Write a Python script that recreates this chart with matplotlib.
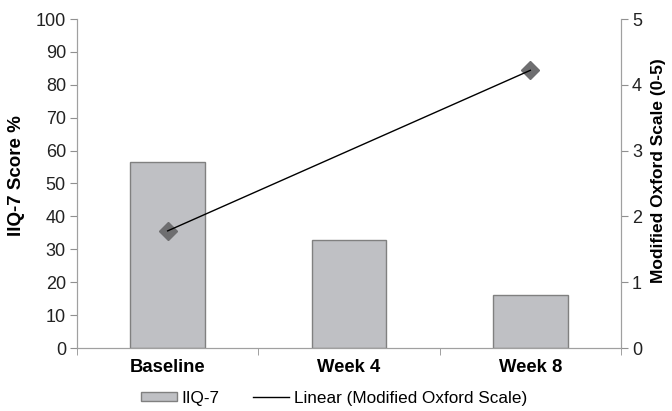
import numpy as np
import matplotlib
matplotlib.use("Agg")
import matplotlib.pyplot as plt
from matplotlib.lines import Line2D
from matplotlib.patches import Patch

categories = ["Baseline", "Week 4", "Week 8"]
iiq7 = [56.5, 32.8, 16.1]
oxford_x = [0, 2]
oxford = [1.78, 4.22]
left_ticks = list(range(0, 101, 10))
right_ticks = [0, 1, 2, 3, 4, 5]

plt.rcParams['font.family'] = ['Liberation Sans', 'DejaVu Sans']

fig = plt.figure(figsize=(6.72, 4.11), dpi=100)
ax = fig.add_axes([77/672, 1-348/411, (621-77)/672, (348-19)/411])
x = np.arange(len(categories))
ax.bar(x, iiq7, width=0.41, color='#bfc0c4', edgecolor='#808080', linewidth=1.0, zorder=2)
ax.set_xlim(-0.5, 2.5)
ax.set_ylim(0, 100)
ax.set_yticks(left_ticks)
ax.tick_params(axis='y', direction='out', length=5, color='#909090', labelsize=13, pad=3, colors='#222222')
ax.set_xticks(x)
ax.set_xticklabels(categories, fontweight='bold', fontsize=13.3)
ax.tick_params(axis='x', length=0, pad=8)
ax.set_xticks([-0.5, 0.5, 1.5, 2.5], minor=True)
ax.tick_params(axis='x', which='minor', length=5, color='#909090', direction='out')
ax.spines['top'].set_visible(False)
for s in ['left', 'right', 'bottom']:
    ax.spines[s].set_color('#a0a0a0')
ax.set_ylabel("IIQ-7 Score %", fontweight='bold', fontsize=13.5)
ax.yaxis.set_label_coords(-0.095, 0.525)

ax2 = ax.twinx()
ax2.set_ylim(0, 5)
ax2.set_yticks(right_ticks)
ax2.tick_params(axis='y', direction='out', length=5, color='#909090', labelsize=13, pad=3, colors='#222222')
ax2.spines['top'].set_visible(False)
for s in ['left', 'right', 'bottom']:
    ax2.spines[s].set_color('#a0a0a0')
ax2.plot(oxford_x, oxford, linestyle='none', marker='D', markersize=9, color='#6e6e70', zorder=3)
coef = np.polyfit(oxford_x, oxford, 1)
fx = np.array([oxford_x[0], oxford_x[-1]])
ax2.plot(fx, np.polyval(coef, fx), color='black', linewidth=1.0, zorder=4)
ax2.set_ylabel("Modified Oxford Scale (0-5)", fontweight='bold', fontsize=12.5)
ax2.yaxis.set_label_coords(1.056, 0.54)

handles = [Patch(facecolor='#bfc0c4', edgecolor='#808080', label='IIQ-7'),
           Line2D([0], [0], color='black', linewidth=1.0, label='Linear (Modified Oxford Scale)')]
fig.legend(handles=handles, loc='center', bbox_to_anchor=(0.497, 1-398/411), ncol=2, frameon=False,
           fontsize=12.3, handlelength=2.1, handleheight=0.5, columnspacing=2.0, handletextpad=0.25)

fig.savefig("out.png", dpi=100)
